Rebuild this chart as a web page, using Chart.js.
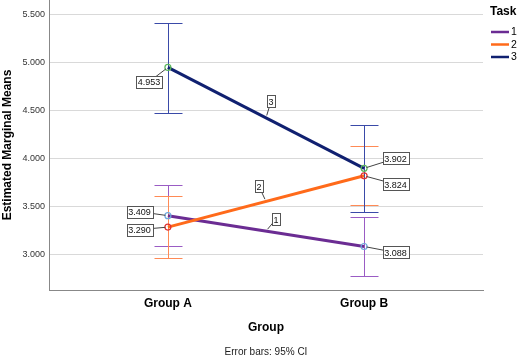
<!DOCTYPE html>
<html>
<head>
<meta charset="utf-8">
<script src="https://cdn.jsdelivr.net/npm/chart.js@4"></script>
<style>
  html, body { margin: 0; padding: 0; background: #fff; }
</style>
</head>
<body>
<canvas id="chart" width="520" height="357"></canvas>
<script>
// data
const groups = ['Group A', 'Group B'];
const tasks = ['1', '2', '3'];
const task1 = [3.409, 3.088];
const task2 = [3.290, 3.824];
const task3 = [4.953, 3.902];
// 95% CI ends
const task1Low = [3.09, 2.78];
const task1High = [3.73, 3.40];
const task2Low = [2.97, 3.52];
const task2High = [3.61, 4.13];
const task3Low = [4.48, 3.45];
const task3High = [5.42, 4.35];
const yTicks = [3.0, 3.5, 4.0, 4.5, 5.0, 5.5];

const lineColors = ['#6b2c93', '#ff6a1a', '#102070'];
const barColors = ['#9a5cc4', '#ff8a55', '#3a4aa8'];
const markerColors = ['#6fa8dc', '#e03030', '#5cb85c'];

Chart.defaults.font.family = '"Liberation Sans", Arial, sans-serif';
Chart.defaults.color = '#000';

const series = [task1, task2, task3];
const lows = [task1Low, task2Low, task3Low];
const highs = [task1High, task2High, task3High];

// label box offsets (px) from the point: [task][group]
const valueOffsets = [
  [[-28.5, -4], [31.5, 6]],
  [[-28.5, 2.5], [31.5, 8.5]],
  [[-19, 14.5], [31.5, -10]]
];
// line label offsets from the line midpoint
const lineOffsets = [[10, -12], [-7, -15], [5, -16.5]];

function labelBox(ctx, text, bx, by, px, py) {
  ctx.font = '9px "Liberation Sans", Arial, sans-serif';
  const w = ctx.measureText(text).width + 3;
  const h = 12;
  // leader line
  const dx = px - bx, dy = py - by;
  const d = Math.hypot(dx, dy);
  ctx.strokeStyle = '#444';
  ctx.lineWidth = 1;
  ctx.beginPath();
  ctx.moveTo(bx, by);
  ctx.lineTo(px - dx / d * 2.5, py - dy / d * 2.5);
  ctx.stroke();
  ctx.fillStyle = '#fff';
  ctx.fillRect(Math.round(bx - w / 2) + 0.5, Math.round(by - h / 2) + 0.5, Math.round(w), h);
  ctx.strokeStyle = '#555';
  ctx.strokeRect(Math.round(bx - w / 2) + 0.5, Math.round(by - h / 2) + 0.5, Math.round(w), h);
  ctx.fillStyle = '#111';
  ctx.textAlign = 'center';
  ctx.textBaseline = 'middle';
  ctx.fillText(text, bx, by + 1);
}

const overlay = {
  id: 'overlay',
  beforeDatasetsDraw(chart) {
    const { ctx, scales: { x, y } } = chart;
    ctx.save();
    ctx.lineWidth = 1;
    for (let t = 0; t < 3; t++) {
      ctx.strokeStyle = barColors[t];
      for (let g = 0; g < 2; g++) {
        const px = Math.round(x.getPixelForValue(g)) + 0.5;
        const top = Math.round(y.getPixelForValue(highs[t][g])) + 0.5;
        const bot = Math.round(y.getPixelForValue(lows[t][g])) + 0.5;
        ctx.beginPath();
        ctx.moveTo(px, top); ctx.lineTo(px, bot);
        ctx.moveTo(px - 14, top); ctx.lineTo(px + 14, top);
        ctx.moveTo(px - 14, bot); ctx.lineTo(px + 14, bot);
        ctx.stroke();
      }
    }
    ctx.restore();
  },
  afterDraw(chart) {
    const { ctx, chartArea, scales: { x, y } } = chart;
    ctx.save();
    for (let t = 0; t < 3; t++) {
      for (let g = 0; g < 2; g++) {
        const px = x.getPixelForValue(g), py = y.getPixelForValue(series[t][g]);
        const o = valueOffsets[t][g];
        labelBox(ctx, series[t][g].toFixed(3), px + o[0], py + o[1], px, py);
      }
      const mx = x.getPixelForValue(0.5);
      const my = y.getPixelForValue((series[t][0] + series[t][1]) / 2);
      labelBox(ctx, tasks[t], mx + lineOffsets[t][0], my + lineOffsets[t][1], mx, my);
    }
    // legend
    ctx.textAlign = 'left';
    ctx.textBaseline = 'middle';
    ctx.fillStyle = '#000';
    ctx.font = 'bold 12px "Liberation Sans", Arial, sans-serif';
    ctx.fillText('Task', 490, 12);
    const ly = [32, 44.5, 57];
    ctx.font = '10.5px "Liberation Sans", Arial, sans-serif';
    for (let t = 0; t < 3; t++) {
      ctx.strokeStyle = lineColors[t];
      ctx.lineWidth = 2.5;
      ctx.beginPath();
      ctx.moveTo(491, ly[t]); ctx.lineTo(509, ly[t]);
      ctx.stroke();
      ctx.fillStyle = '#000';
      ctx.fillText(tasks[t], 511, ly[t] + 0.5);
    }
    // footnote
    ctx.textAlign = 'center';
    ctx.font = '10px "Liberation Sans", Arial, sans-serif';
    ctx.fillStyle = '#222';
    ctx.fillText('Error bars: 95% CI', (chartArea.left + chartArea.right) / 2, 352);
    ctx.restore();
  }
};

new Chart(document.getElementById('chart'), {
  type: 'line',
  data: {
    datasets: series.map((s, t) => ({
      label: tasks[t],
      data: s.map((v, g) => ({ x: g, y: v })),
      borderColor: lineColors[t],
      borderWidth: 3,
      pointRadius: 3,
      pointBorderWidth: 1.2,
      pointBorderColor: markerColors[t],
      pointBackgroundColor: 'rgba(255,255,255,0)',
      order: 3 - t
    }))
  },
  options: {
    responsive: false,
    animation: false,
    layout: { autoPadding: false, padding: { top: 0, left: 0, right: 37, bottom: 20 } },
    plugins: { legend: { display: false }, tooltip: { enabled: false } },
    scales: {
      x: {
        type: 'linear',
        min: -0.606,
        max: 1.606,
        afterBuildTicks: s => { s.ticks = [{ value: 0 }, { value: 1 }]; },
        afterFit: s => { s.height = 47; s.paddingLeft = 0; s.paddingRight = 0; },
        ticks: {
          callback: v => groups[v],
          font: { size: 12, weight: 'bold' },
          color: '#000',
          padding: 6,
          maxRotation: 0
        },
        grid: { display: false, drawTicks: false },
        border: { display: true, color: '#888', width: 1 },
        title: {
          display: true,
          text: 'Group',
          font: { size: 12, weight: 'bold' },
          color: '#000',
          padding: { top: 0, bottom: 2 }
        }
      },
      y: {
        min: 2.635,
        max: 5.655,
        afterBuildTicks: s => { s.ticks = yTicks.map(v => ({ value: v })); },
        afterFit: s => { s.width = 49; s.paddingTop = 0; s.paddingBottom = 0; },
        ticks: {
          callback: v => v.toFixed(3),
          font: { size: 9 },
          color: '#333',
          padding: 4
        },
        grid: { color: '#d9d9d9', drawTicks: false },
        border: { display: true, color: '#888', width: 1 },
        title: {
          display: true,
          text: 'Estimated Marginal Means',
          font: { size: 12, weight: 'bold' },
          color: '#000',
          padding: { top: 0, bottom: 0 }
        }
      }
    }
  },
  plugins: [overlay]
});
</script>
</body>
</html>
